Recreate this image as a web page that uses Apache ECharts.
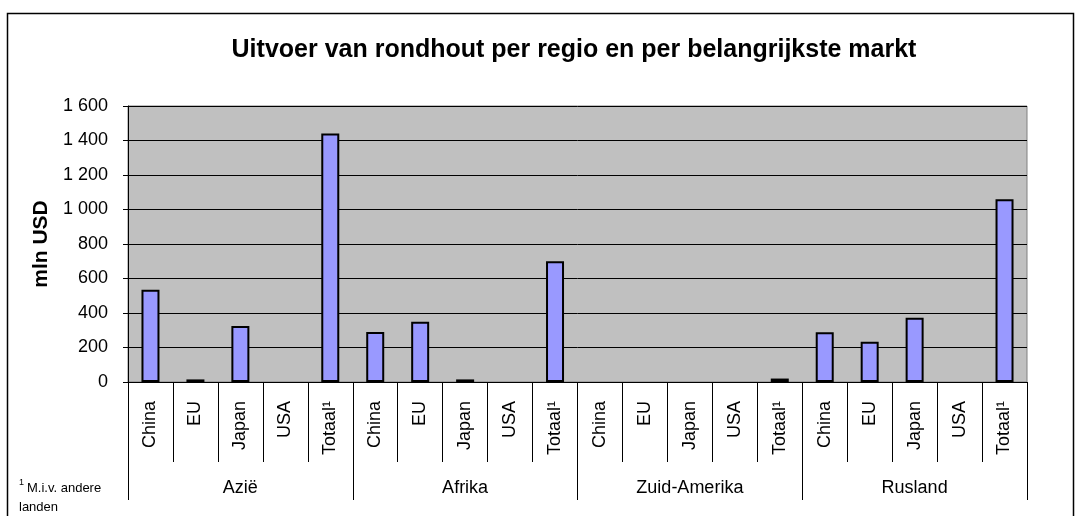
<!DOCTYPE html>
<html>
<head>
<meta charset="utf-8">
<script src="https://cdn.jsdelivr.net/npm/echarts@6/dist/echarts.min.js"></script>
<style>
html,body{margin:0;padding:0;background:#fff;}
#c{width:1081px;height:516px;}
</style>
</head>
<body>
<div id="c"></div>
<script>
const markets = ['China', 'EU', 'Japan', 'USA', 'Totaal¹'];
const regions = ['Azië', 'Afrika', 'Zuid-Amerika', 'Rusland'];
const aziee = [535, 15, 325, null, 1440];
const afrika = [290, 350, 15, null, 700];
const zuidAmerika = [null, null, null, null, 20];
const rusland = [288, 234, 373, null, 1060];
const yTicks = { min: 0, max: 1600, interval: 200 };

const categories = [];
regions.forEach(function () { markets.forEach(function (m) { categories.push(m); }); });
const values = [].concat(aziee, afrika, zuidAmerika, rusland);

const FONT = 'Liberation Sans, Arial, sans-serif';
const chart = echarts.init(document.getElementById('c'), null, { renderer: 'canvas' });
chart.setOption({
  backgroundColor: '#ffffff',
  animation: false,
  title: {
    text: 'Uitvoer van rondhout per regio en per belangrijkste markt',
    left: 569, top: 33, textAlign: 'center',
    textStyle: { fontFamily: FONT, fontWeight: 'bold', fontSize: 25, color: '#000' }
  },
  grid: {
    left: 128, right: 54, top: 106, bottom: 134,
    show: true, backgroundColor: '#c0c0c0', borderColor: '#808080', borderWidth: 1
  },
  xAxis: [{
    type: 'category', data: categories, position: 'bottom',
    axisLine: { lineStyle: { color: '#000', width: 1 } },
    axisTick: { show: true, length: 80, lineStyle: { color: '#000' } },
    axisLabel: { rotate: 90, margin: 19, fontFamily: FONT, fontSize: 18, color: '#000', interval: 0 },
    splitLine: { show: false }
  }, {
    type: 'category', data: regions, position: 'bottom',
    axisLine: { show: false },
    axisTick: { show: true, length: 118, lineStyle: { color: '#000' } },
    axisLabel: { margin: 97, fontFamily: FONT, fontSize: 18, color: '#000', interval: 0 },
    splitLine: { show: false }
  }],
  yAxis: {
    type: 'value', min: yTicks.min, max: yTicks.max, interval: yTicks.interval,
    name: 'mln USD', nameLocation: 'middle', nameGap: 70, nameRotate: 90,
    nameTextStyle: { fontFamily: FONT, fontWeight: 'bold', fontSize: 21, color: '#000' },
    axisLine: { show: true, lineStyle: { color: '#000' } },
    axisTick: { show: true, length: 5, lineStyle: { color: '#000' } },
    axisLabel: {
      margin: 20, fontFamily: FONT, fontSize: 18, color: '#000',
      formatter: function (v) { return String(v).replace(/\B(?=(\d{3})+(?!\d))/g, ' '); }
    },
    splitLine: { show: true, lineStyle: { color: '#000', width: 1 } }
  },
  series: [{
    type: 'bar', data: values, xAxisIndex: 0, barWidth: 18,
    itemStyle: { color: '#9999ff', borderColor: '#000', borderWidth: 2 }
  }],
  graphic: [
    { type: 'rect', shape: { x: 7.5, y: 13.5, width: 1066, height: 520 }, style: { fill: null, stroke: '#000', lineWidth: 1.5 }, silent: true },
    { type: 'text', left: 19, top: 478, style: { text: '1', font: '9px ' + FONT, fill: '#000' } },
    { type: 'text', left: 27, top: 482, style: { text: 'M.i.v. andere', font: '13px ' + FONT, fill: '#000' } },
    { type: 'text', left: 19, top: 501, style: { text: 'landen', font: '13px ' + FONT, fill: '#000' } }
  ]
});
</script>
</body>
</html>
